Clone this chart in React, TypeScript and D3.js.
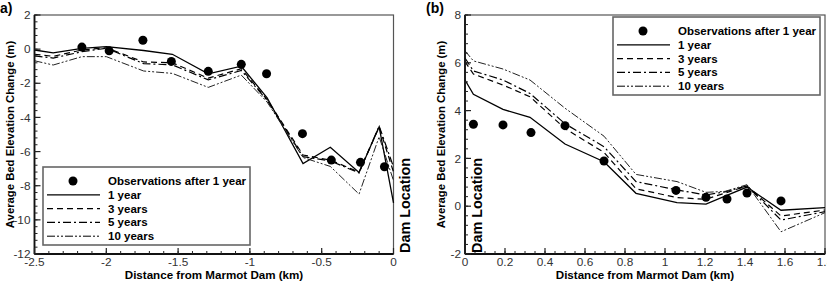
import React from "react";
import * as d3 from "d3";

// ---------- Panel (a): upstream of the dam ----------
const distA = [-2.5, -2.37, -2.17, -2.0, -1.74, -1.54, -1.29, -1.06, -0.88, -0.63, -0.44, -0.24, -0.1, 0];
const year1A = [-0.05, -0.22, 0.05, 0.15, -0.08, -0.3, -1.45, -1.0, -2.85, -6.7, -5.75, -7.22, -4.55, -9.0];
const year3A = [-0.3, -0.42, -0.05, 0.08, -0.75, -0.8, -1.7, -1.15, -2.95, -6.2, -6.5, -7.2, -4.55, -7.2];
const year5A = [-0.4, -0.52, -0.15, 0.05, -0.85, -0.92, -1.8, -1.25, -3.0, -6.3, -6.55, -7.25, -4.5, -6.9];
const year10A = [-0.68, -0.93, -0.44, -0.44, -1.28, -1.42, -2.24, -1.52, -3.1, -6.35, -6.87, -8.49, -5.13, -7.7];
const obsDistA = [-2.17, -1.98, -1.745, -1.547, -1.29, -1.06, -0.884, -0.634, -0.433, -0.23, -0.063];
const obsA = [0.12, -0.1, 0.52, -0.72, -1.3, -0.89, -1.44, -4.95, -6.5, -6.63, -6.89];
const xTicksA = [-2.5, -2, -1.5, -1, -0.5, 0];
const yTicksA = [2, 0, -2, -4, -6, -8, -10, -12];

// ---------- Panel (b): downstream of the dam ----------
const distB = [0, 0.042, 0.19, 0.325, 0.5, 0.695, 0.855, 1.06, 1.205, 1.3, 1.41, 1.58, 1.8];
const year1B = [5.28, 4.68, 4.05, 3.72, 2.6, 1.86, 0.54, 0.15, 0.09, 0.42, 0.8, -0.17, -0.06];
const year3B = [6.05, 5.53, 5.07, 4.58, 3.25, 2.25, 0.73, 0.36, 0.29, 0.55, 0.85, -0.41, -0.16];
const year5B = [6.2, 5.66, 5.28, 4.72, 3.45, 2.49, 1.03, 0.68, 0.47, 0.6, 0.85, -0.58, -0.23];
const year10B = [6.5, 6.08, 5.74, 5.28, 4.1, 2.93, 1.33, 1.03, 0.58, 0.62, 0.9, -1.07, -0.27];
const obsDistB = [0.042, 0.19, 0.33, 0.5, 0.695, 1.055, 1.205, 1.31, 1.41, 1.58];
const obsB = [3.43, 3.4, 3.08, 3.37, 1.89, 0.66, 0.37, 0.3, 0.55, 0.22];
const xTicksB = [0, 0.2, 0.4, 0.6, 0.8, 1, 1.2, 1.4, 1.6, 1.8];
const yTicksB = [-2, 0, 2, 4, 6, 8];

const seriesNames = ["1 year", "3 years", "5 years", "10 years"];
const obsName = "Observations after 1 year";
const dashes = ["none", "6,4", "8,3,2,3", "8,2,2,2,2,2"];
const widths = [1.3, 1.2, 1.2, 1.0];

const FONT = "Arial, 'Liberation Sans', sans-serif";

type PanelProps = {
  label: string;
  labelX: number;
  left: number;
  right: number;
  top: number;
  bottom: number;
  xDomain: [number, number];
  yDomain: [number, number];
  xTicks: number[];
  yTicks: number[];
  xMinor: number;
  yMinor: number;
  dist: number[];
  series: number[][];
  obsDist: number[];
  obs: number[];
  legend: { x: number; y: number };
  dam: { x: number; y: number };
};

function Panel(p: PanelProps) {
  const x = d3.scaleLinear().domain(p.xDomain).range([p.left, p.right]);
  const y = d3.scaleLinear().domain(p.yDomain).range([p.bottom, p.top]);
  const line = d3
    .line<number>()
    .x((_, i) => x(p.dist[i]))
    .y((v) => y(v));

  const minorX = d3
    .range(Math.round((p.xDomain[1] - p.xDomain[0]) / p.xMinor) + 1)
    .map((i) => p.xDomain[0] + i * p.xMinor);
  const minorY = d3
    .range(Math.round((p.yDomain[1] - p.yDomain[0]) / p.yMinor) + 1)
    .map((i) => p.yDomain[0] + i * p.yMinor);

  const midX = (p.left + p.right) / 2;
  const midY = (p.top + p.bottom) / 2;
  const lg = p.legend;
  const rowH = 13.8;

  return (
    <g fontFamily={FONT}>
      <text x={p.labelX} y={13} fontSize={14} fontWeight="bold">
        {p.label}
      </text>

      {/* frame */}
      <rect
        x={p.left}
        y={p.top}
        width={p.right - p.left}
        height={p.bottom - p.top}
        fill="none"
        stroke="#555"
        strokeWidth={1.2}
      />

      {/* model results */}
      {p.series.map((s, k) => (
        <path
          key={k}
          d={line(s) ?? ""}
          fill="none"
          stroke={k === 3 ? "#222" : "#000"}
          strokeWidth={widths[k]}
          strokeDasharray={dashes[k]}
        />
      ))}

      {/* observations */}
      {p.obs.map((v, i) => (
        <circle key={i} cx={x(p.obsDist[i])} cy={y(v)} r={4.5} fill="#000" />
      ))}

      {/* axes lines */}
      <line x1={p.left} x2={p.left} y1={p.top} y2={p.bottom} stroke="#111" strokeWidth={1.8} />
      <line x1={p.left} x2={p.right} y1={p.bottom} y2={p.bottom} stroke="#111" strokeWidth={1.8} />

      {/* minor ticks */}
      {minorX.map((v, i) => (
        <line key={"mx" + i} x1={x(v)} x2={x(v)} y1={p.bottom} y2={p.bottom - 3} stroke="#222" strokeWidth={1} />
      ))}
      {minorY.map((v, i) => (
        <line key={"my" + i} x1={p.left} x2={p.left + 3} y1={y(v)} y2={y(v)} stroke="#222" strokeWidth={1} />
      ))}
      {/* major ticks + labels */}
      {p.xTicks.map((v, i) => (
        <g key={"tx" + i}>
          <line x1={x(v)} x2={x(v)} y1={p.bottom} y2={p.bottom - 6} stroke="#222" strokeWidth={1.2} />
          <text x={x(v)} y={p.bottom + 12} fontSize={11.8} textAnchor="middle" fill="#333">
            {String(v)}
          </text>
        </g>
      ))}
      {p.yTicks.map((v, i) => (
        <g key={"ty" + i}>
          <line x1={p.left} x2={p.left + 6} y1={y(v)} y2={y(v)} stroke="#222" strokeWidth={1.2} />
          <text x={p.left - 4} y={y(v) + 4.2} fontSize={11.8} textAnchor="end" fill="#333">
            {String(v)}
          </text>
        </g>
      ))}

      {/* axis titles */}
      <text x={midX} y={p.bottom + 25} fontSize={11.6} fontWeight="bold" textAnchor="middle">
        Distance from Marmot Dam (km)
      </text>
      <text
        transform={`translate(${p.left - 20.5},${midY}) rotate(-90)`}
        fontSize={11.3}
        fontWeight="bold"
        textAnchor="middle"
      >
        Average Bed Elevation Change (m)
      </text>

      {/* dam marker */}
      <text
        transform={`translate(${p.dam.x},${p.dam.y}) rotate(-90)`}
        fontSize={14.4}
        fontWeight="bold"
      >
        Dam Location
      </text>

      {/* legend */}
      <rect x={lg.x} y={lg.y} width={207} height={78} fill="#fff" stroke="#666" strokeWidth={1.6} />
      <circle cx={lg.x + 30} cy={lg.y + 14} r={4.5} fill="#000" />
      <text x={lg.x + 65} y={lg.y + 18} fontSize={11.5} fontWeight="bold">
        {obsName}
      </text>
      {seriesNames.map((name, k) => {
        const yy = lg.y + 14 + (k + 1) * rowH;
        return (
          <g key={name}>
            <line
              x1={lg.x + 4}
              x2={lg.x + 57}
              y1={yy}
              y2={yy}
              stroke="#000"
              strokeWidth={widths[k]}
              strokeDasharray={dashes[k]}
            />
            <text x={lg.x + 65} y={yy + 4} fontSize={11.5} fontWeight="bold">
              {name}
            </text>
          </g>
        );
      })}
    </g>
  );
}

export default function App() {
  return (
    <svg
      width={827}
      height={282}
      style={{ position: "absolute", left: 0, top: 0, background: "#fff" }}
    >
      <rect width={827} height={282} fill="#fff" />
      <Panel
        label="a)"
        labelX={0}
        left={34.5}
        right={393.5}
        top={15}
        bottom={254}
        xDomain={[-2.5, 0]}
        yDomain={[-12, 2]}
        xTicks={xTicksA}
        yTicks={yTicksA}
        xMinor={0.1}
        yMinor={0.4}
        dist={distA}
        series={[year1A, year3A, year5A, year10A]}
        obsDist={obsDistA}
        obs={obsA}
        legend={{ x: 43, y: 167 }}
        dam={{ x: 409.5, y: 253 }}
      />
      <Panel
        label="(b)"
        labelX={426}
        left={465}
        right={825}
        top={15}
        bottom={254}
        xDomain={[0, 1.8]}
        yDomain={[-2, 8]}
        xTicks={xTicksB}
        yTicks={yTicksB}
        xMinor={0.05}
        yMinor={0.4}
        dist={distB}
        series={[year1B, year3B, year5B, year10B]}
        obsDist={obsDistB}
        obs={obsB}
        legend={{ x: 613, y: 17 }}
        dam={{ x: 482, y: 253 }}
      />
    </svg>
  );
}
